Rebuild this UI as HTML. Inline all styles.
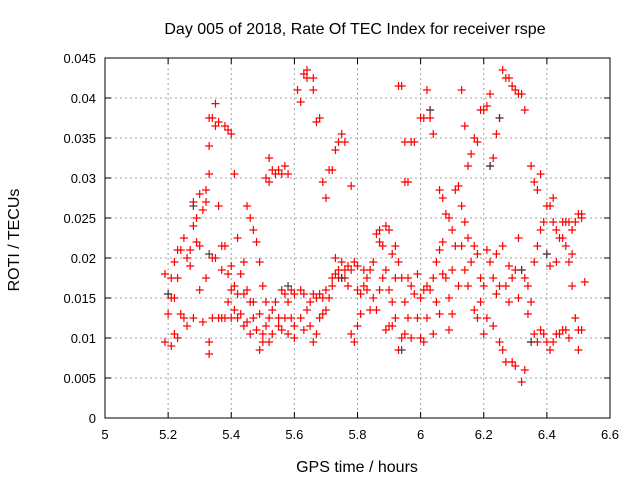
<!DOCTYPE html>
<html><head><meta charset="utf-8"><style>
body{margin:0;background:#fff;}
svg{display:block;font-family:"Liberation Sans",sans-serif;}
</style></head><body>
<svg id="chart" width="640" height="480">
<text x="355" y="34" font-size="16" text-anchor="middle">Day 005 of 2018, Rate Of TEC Index for receiver rspe</text>
<text x="0" y="0" font-size="16" text-anchor="middle" transform="translate(19,240) rotate(-90)">ROTI / TECUs</text>
<text x="357" y="472" font-size="16" text-anchor="middle">GPS time / hours</text>
<g id="grid"></g>
<g id="axes"></g>
<g id="marks"></g>
</svg>
<script>
const xTicks=[5,5.2,5.4,5.6,5.8,6,6.2,6.4,6.6];
const xTickLabels=["5","5.2","5.4","5.6","5.8","6","6.2","6.4","6.6"];
const yTicks=[0,0.005,0.01,0.015,0.02,0.025,0.03,0.035,0.04,0.045];
const yTickLabels=["0","0.005","0.01","0.015","0.02","0.025","0.03","0.035","0.04","0.045"];
const redX=[5.19,5.19,5.2,5.2,5.21,5.21,5.21,5.22,5.22,5.22,5.23,5.23,5.23,5.24,5.24,5.25,5.25,5.26,5.26,5.27,5.27,5.28,5.28,5.28,5.29,5.29,5.3,5.3,5.3,5.31,5.31,5.32,5.32,5.32,
5.33,5.33,5.33,5.33,5.33,5.34,5.34,5.34,5.35,5.35,5.35,5.36,5.36,5.36,5.37,5.37,5.37,5.38,5.38,5.38,5.39,5.39,5.39,5.4,5.4,5.4,5.4,
5.41,5.41,5.41,5.42,5.42,5.42,5.43,5.43,5.44,5.44,5.44,5.45,5.45,5.45,5.46,5.46,5.46,5.47,5.47,5.47,5.48,5.48,5.49,5.49,5.49,5.5,5.5,5.5,
5.51,5.51,5.51,5.52,5.52,5.52,5.52,5.53,5.53,5.53,5.54,5.54,5.55,5.55,5.55,5.56,5.56,5.56,5.57,5.57,5.57,5.58,5.58,5.58,5.59,5.59,5.6,5.6,5.6,
5.61,5.62,5.62,5.62,5.63,5.63,5.63,5.64,5.64,5.64,5.65,5.65,5.66,5.66,5.66,5.66,5.67,5.67,5.67,5.68,5.68,5.68,5.69,5.69,5.69,5.7,5.7,5.7,
5.71,5.71,5.72,5.72,5.72,5.73,5.73,5.73,5.74,5.74,5.74,5.75,5.75,5.75,5.76,5.76,5.76,5.77,5.77,5.78,5.78,5.78,5.79,5.79,5.8,5.8,5.8,
5.81,5.81,5.82,5.82,5.83,5.83,5.84,5.84,5.85,5.85,5.86,5.86,5.87,5.87,5.87,5.88,5.88,5.89,5.89,5.89,5.9,5.9,5.9,
5.91,5.91,5.91,5.92,5.92,5.92,5.93,5.93,5.93,5.94,5.94,5.94,5.95,5.95,5.95,5.95,5.96,5.96,5.96,5.97,5.97,5.97,5.98,5.98,5.99,5.99,6.0,6.0,6.0,
6.01,6.01,6.01,6.02,6.02,6.02,6.03,6.03,6.03,6.04,6.04,6.04,6.05,6.05,6.06,6.06,6.06,6.07,6.07,6.07,6.08,6.08,6.09,6.09,6.09,6.1,6.1,6.1,
6.11,6.11,6.12,6.12,6.13,6.13,6.13,6.14,6.14,6.14,6.15,6.15,6.15,6.16,6.16,6.17,6.17,6.17,6.18,6.18,6.18,6.19,6.19,6.19,6.2,6.2,6.2,
6.21,6.21,6.21,6.22,6.22,6.22,6.23,6.23,6.23,6.24,6.24,6.24,6.25,6.25,6.25,6.26,6.26,6.26,6.27,6.27,6.27,6.28,6.28,6.28,6.29,6.29,6.29,6.3,6.3,6.3,
6.31,6.31,6.31,6.32,6.32,6.32,6.33,6.33,6.33,6.34,6.34,6.35,6.35,6.35,6.36,6.36,6.36,6.37,6.37,6.37,6.38,6.38,6.38,6.39,6.39,6.4,6.4,6.4,
6.41,6.41,6.41,6.42,6.42,6.42,6.43,6.43,6.43,6.44,6.44,6.45,6.45,6.45,6.46,6.46,6.46,6.47,6.47,6.47,6.48,6.48,6.48,6.49,6.49,6.5,6.5,6.5,6.51,6.51,6.51,6.52];
const redY=[0.018,0.0095,0.013,0.0155,0.015,0.009,0.0175,0.0105,0.0195,0.015,0.021,0.0175,0.01,0.013,0.021,0.0225,0.0125,0.0115,0.02,0.021,0.019,0.024,0.027,0.0125,0.025,0.022,0.016,0.028,0.0215,0.012,0.026,0.0285,0.027,0.0175,
0.0375,0.034,0.0305,0.0095,0.008,0.0375,0.0125,0.02,0.0393,0.0365,0.02,0.037,0.0265,0.0125,0.0215,0.0185,0.0125,0.0365,0.0215,0.0125,0.036,0.018,0.0145,0.0355,0.019,0.016,0.0125,
0.0305,0.0165,0.0135,0.0225,0.0155,0.0125,0.018,0.013,0.0195,0.0155,0.0115,0.0265,0.016,0.012,0.025,0.0145,0.0105,0.0235,0.0145,0.0125,0.022,0.011,0.0195,0.013,0.0085,0.0165,0.0105,0.0095,
0.03,0.0145,0.0115,0.0325,0.0295,0.0125,0.0095,0.031,0.0135,0.0105,0.0305,0.0145,0.031,0.0115,0.0125,0.0305,0.016,0.011,0.0315,0.0155,0.0125,0.0305,0.0145,0.0105,0.016,0.0125,0.0155,0.0115,0.01,
0.041,0.0395,0.016,0.0125,0.043,0.0155,0.011,0.0435,0.0425,0.0135,0.0145,0.0115,0.0425,0.041,0.0155,0.0095,0.037,0.015,0.0105,0.0375,0.0155,0.0125,0.0295,0.015,0.013,0.0275,0.016,0.0135,
0.031,0.015,0.031,0.0165,0.0175,0.0335,0.02,0.018,0.0345,0.0185,0.0175,0.0355,0.0175,0.0195,0.0345,0.0185,0.0175,0.019,0.0165,0.029,0.0185,0.0105,0.0195,0.0095,0.019,0.016,0.0115,
0.0155,0.013,0.0165,0.0185,0.0175,0.016,0.0135,0.0185,0.015,0.0195,0.023,0.0135,0.0235,0.022,0.016,0.0215,0.0175,0.024,0.0185,0.011,0.0235,0.016,0.0115,
0.0205,0.0145,0.0115,0.0215,0.0175,0.0125,0.0415,0.0195,0.0085,0.0415,0.0175,0.01,0.0345,0.0295,0.0145,0.0105,0.0295,0.0175,0.0125,0.0345,0.0165,0.01,0.0345,0.0155,0.018,0.0125,0.0375,0.015,0.01,
0.0375,0.016,0.0095,0.041,0.0165,0.0125,0.0375,0.0385,0.016,0.0355,0.0175,0.0105,0.0195,0.0145,0.0285,0.021,0.013,0.0275,0.022,0.018,0.0255,0.0175,0.025,0.015,0.011,0.0235,0.0185,0.013,
0.0285,0.0215,0.029,0.0165,0.041,0.0265,0.0215,0.0365,0.0245,0.0185,0.0315,0.0225,0.0165,0.033,0.0195,0.035,0.0215,0.0135,0.0345,0.0205,0.0125,0.0385,0.0175,0.0145,0.0385,0.0165,0.0105,
0.039,0.021,0.0125,0.0405,0.0315,0.0195,0.0325,0.0175,0.0115,0.0355,0.0205,0.0155,0.0375,0.0165,0.0095,0.0435,0.0215,0.0085,0.0425,0.0165,0.007,0.0425,0.019,0.0145,0.0415,0.0175,0.007,0.041,0.0185,0.0065,
0.0405,0.0225,0.015,0.0405,0.0185,0.0045,0.0385,0.0175,0.006,0.0165,0.013,0.0315,0.0145,0.0095,0.0295,0.0195,0.0105,0.0285,0.0215,0.0095,0.0305,0.0235,0.011,0.0245,0.0105,0.0265,0.0205,0.0095,
0.0265,0.019,0.0085,0.0275,0.0245,0.0095,0.0235,0.0195,0.0105,0.0225,0.0105,0.0245,0.0225,0.011,0.0245,0.0215,0.011,0.0245,0.0195,0.01,0.0235,0.0205,0.0165,0.0245,0.0125,0.0255,0.011,0.0085,0.025,0.0255,0.011,0.017];
const grayX=[5.2,5.28,5.33,5.58,5.75,5.94,6.03,6.22,6.25,6.32,6.35,6.4];
const grayY=[0.0155,0.0265,0.0205,0.0165,0.0175,0.0085,0.0385,0.0315,0.0375,0.0185,0.0095,0.0205];

const L=105,R=610,T=58,B=418;
const xs=v=>L+(v-5)/(6.6-5)*(R-L);
const ys=v=>B-(v/0.045)*(B-T);
const NS='http://www.w3.org/2000/svg';
function mk(tag,attrs,parent){const e=document.createElementNS(NS,tag);for(const k in attrs)e.setAttribute(k,attrs[k]);parent.appendChild(e);return e;}
const grid=document.getElementById('grid'),axes=document.getElementById('axes'),marks=document.getElementById('marks');
xTicks.forEach((t,i)=>{
  const x=xs(t);
  if(i>0&&i<xTicks.length-1){const g=mk('line',{x1:x,x2:x,y1:T,y2:B,stroke:'#a0a0a0','stroke-dasharray':'2,3'},grid);
  
  }
  mk('line',{x1:x,x2:x,y1:B,y2:B-6,stroke:'#000'},axes);
  mk('line',{x1:x,x2:x,y1:T,y2:T+6,stroke:'#000'},axes);
  const lb=mk('text',{x:x,y:B+21,'font-size':13,'text-anchor':'middle'},axes);
  lb.textContent=xTickLabels[i];
  
  
});
yTicks.forEach((t,i)=>{
  const y=ys(t);
  if(i>0&&i<yTicks.length-1){const g=mk('line',{x1:L,x2:R,y1:y,y2:y,stroke:'#a0a0a0','stroke-dasharray':'2,3'},grid);
  
  }
  mk('line',{x1:L,x2:L+6,y1:y,y2:y,stroke:'#000'},axes);
  mk('line',{x1:R,x2:R-6,y1:y,y2:y,stroke:'#000'},axes);
  const lb=mk('text',{x:L-9,y:y+5,'font-size':13,'text-anchor':'end'},axes);
  lb.textContent=yTickLabels[i];
  
  
});
mk('rect',{x:L,y:T,width:R-L,height:B-T,fill:'none',stroke:'#000'},axes);
function plus(x,y,c){
  const p=mk('path',{d:`M${x-4} ${y}H${x+4}M${x} ${y-4}V${y+4}`,stroke:c,'stroke-width':1.2,fill:'none'},marks);
  
  
}
redX.forEach((v,i)=>plus(xs(v),ys(redY[i]),'#ff0000'));
grayX.forEach((v,i)=>plus(xs(v),ys(grayY[i]),'#404040'));
</script>
</body></html>
